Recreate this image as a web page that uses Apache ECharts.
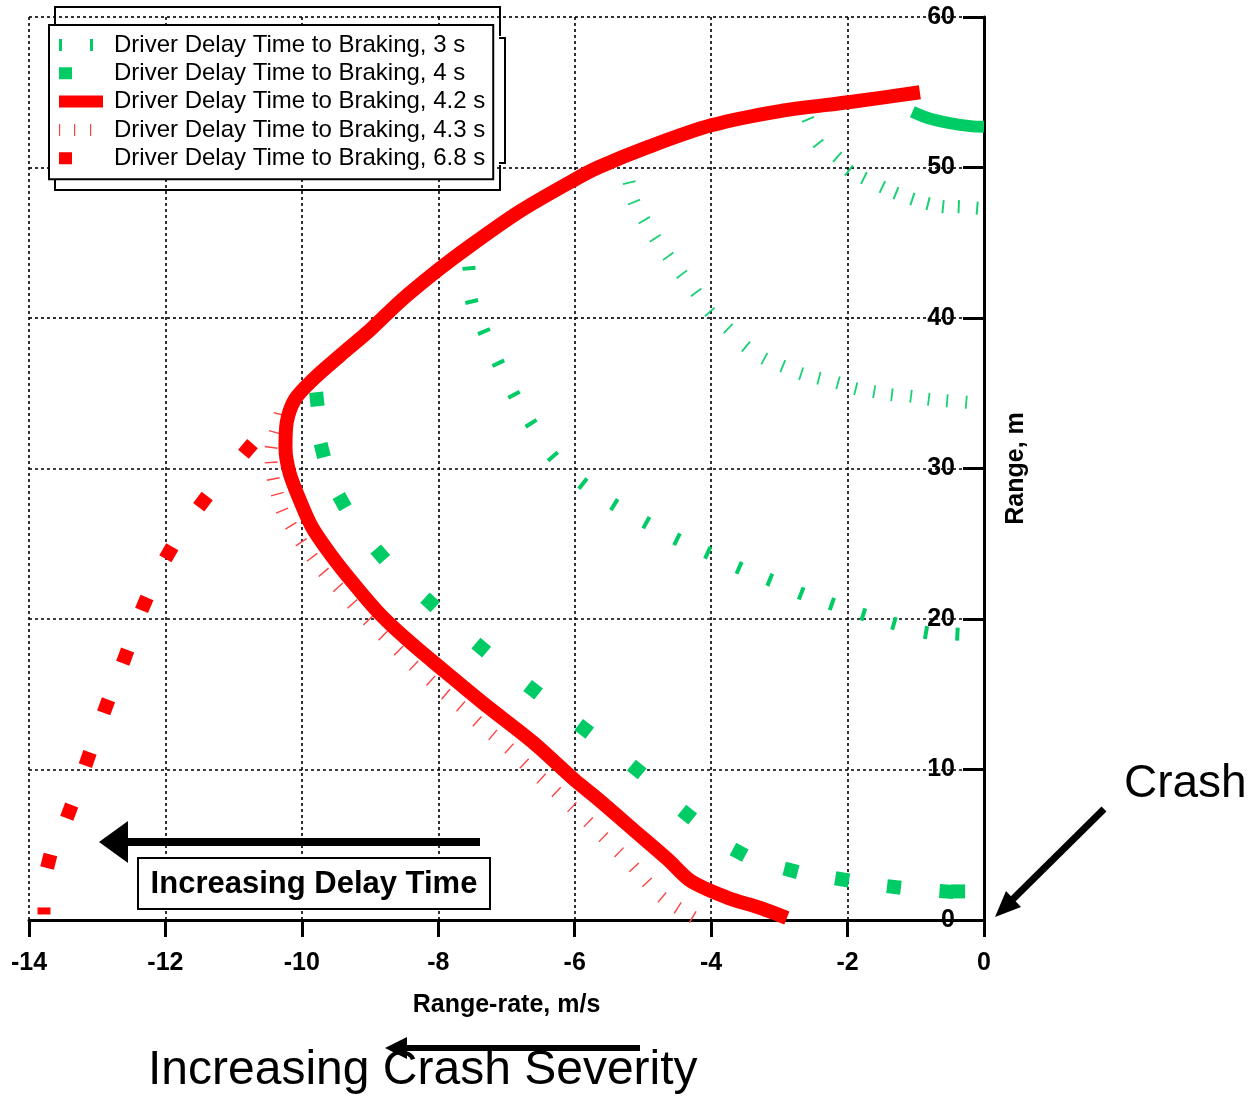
<!DOCTYPE html>
<html>
<head>
<meta charset="utf-8">
<title>Range vs Range-rate</title>
<script src="https://cdn.jsdelivr.net/npm/echarts@6/dist/echarts.min.js"></script>
</head>
<body style="margin:0;background:#fff">
<div id="main" style="width:1259px;height:1098px;"></div>
<script>
// series names (legend text)
var names = [
    'Driver Delay Time to Braking, 3 s',
    'Driver Delay Time to Braking, 4 s',
    'Driver Delay Time to Braking, 4.2 s',
    'Driver Delay Time to Braking, 4.3 s',
    'Driver Delay Time to Braking, 6.8 s'
];

// [range-rate m/s, range m]
// 3 s : three separate traces
var delay3A = [[-7.55,43.3],[-7.51,41.1],[-7.33,39.1],[-7.12,37.0],[-6.89,34.9],[-6.64,33.0],[-6.32,30.8],
    [-5.88,29.0],[-5.42,27.6],[-4.95,26.4],[-4.50,25.3],[-4.05,24.4],[-3.59,23.4],[-3.14,22.6],[-2.68,21.7],
    [-2.23,21.0],[-1.77,20.3],[-1.32,19.7],[-0.85,19.1],[-0.39,19.0]];
var delay3B = [[-5.20,49.0],[-5.13,47.7],[-4.98,46.5],[-4.82,45.3],[-4.63,44.1],[-4.43,42.9],[-4.22,41.7],
    [-4.02,40.4],[-3.75,39.3],[-3.49,38.1],[-3.22,37.3],[-2.95,36.8],[-2.68,36.3],[-2.42,36.0],[-2.14,35.7],
    [-1.88,35.3],[-1.61,35.1],[-1.35,34.9],[-1.07,34.8],[-0.81,34.6],[-0.54,34.5],[-0.26,34.4]];
var delay3C = [[-2.58,53.2],[-2.43,51.6],[-2.15,50.7],[-1.98,49.8],[-1.76,49.3],[-1.49,48.7],[-1.29,48.3],
    [-1.05,47.9],[-0.82,47.6],[-0.60,47.4],[-0.37,47.4],[-0.10,47.3]];

// 4 s
var delay4 = [[-9.78,34.6],[-9.70,31.2],[-9.41,27.8],[-8.85,24.3],[-8.12,21.1],[-7.37,18.1],[-6.61,15.3],
    [-5.86,12.7],[-5.09,10.0],[-4.35,7.0],[-3.59,4.5],[-2.83,3.3],[-2.08,2.7],[-1.32,2.2],[-0.55,1.9],[-0.38,1.9]];
var delay4Top = [[-1.05,53.7],[-0.8,53.25],[-0.5,52.95],[-0.2,52.75],[0,52.7]];

// 4.2 s
var delay42 = [[-0.94,55.0],[-1.96,54.35],[-2.99,53.75],[-4.0,52.8],[-4.9,51.4],[-5.66,50.0],[-6.0,49.2],
    [-6.8,47.1],[-7.53,44.8],[-8.0,43.2],[-8.56,41.1],[-9.0,39.2],[-9.44,37.5],[-9.84,35.9],[-10.1,34.6],
    [-10.22,33.1],[-10.24,31.4],[-10.18,29.7],[-10.03,27.9],[-9.85,26.1],[-9.58,24.3],[-9.25,22.4],
    [-8.85,20.3],[-8.4,18.4],[-7.9,16.5],[-7.34,14.4],[-6.61,11.8],[-6.0,9.3],[-5.65,8.0],[-5.14,6.0],
    [-4.63,4.0],[-4.3,2.6],[-3.77,1.5],[-3.28,0.8],[-2.89,0.13]];

// 4.3 s
var delay43 = [[-10.32,33.6],[-10.39,32.4],[-10.45,31.4],[-10.45,30.4],[-10.42,29.3],[-10.36,28.3],[-10.29,27.2],
    [-10.16,26.2],[-10.01,25.1],[-9.85,24.1],[-9.68,23.1],[-9.47,22.1],[-9.26,21.0],[-9.03,19.9],[-8.81,18.9],
    [-8.58,17.9],[-8.36,16.9],[-8.11,15.9],[-7.89,15.0],[-7.67,14.2],[-7.43,13.2],[-7.20,12.3],[-6.96,11.4],
    [-6.74,10.4],[-6.49,9.4],[-6.27,8.5],[-6.04,7.5],[-5.80,6.5],[-5.58,5.5],[-5.35,4.5],[-5.13,3.5],
    [-4.94,2.5],[-4.72,1.5],[-4.49,0.8],[-4.27,0.2]];

// 6.8 s
var delay68 = [[-10.79,31.3],[-11.45,27.8],[-11.95,24.4],[-12.31,21.0],[-12.59,17.5],[-12.87,14.2],
    [-13.14,10.7],[-13.41,7.2],[-13.71,3.9],[-13.78,0.6]];

var xTicks = {min: -14, max: 0, interval: 2};
var yTicks = {min: 0, max: 60, interval: 10};

var GREEN = '#00cc66';
var RED = '#ff0000';
var FONT = 'Liberation Sans, Arial, Helvetica, sans-serif';
var pad = ' M49.9,5.9h0.1v0.1h-0.1z';   // keeps every legend icon 50px wide

var myChart = echarts.init(document.getElementById('main'));

var gridLine = {show: true, lineStyle: {color: '#000', type: [3, 3], width: 1.6}};

var option = {
    animation: false,
    backgroundColor: '#fff',
    grid: {left: 29, right: 275, top: 17, bottom: 178},
    legend: {
        orient: 'vertical', left: 49, top: 25, z: 10,
        padding: [8, 8, 9, 10], itemGap: 4.3,
        itemWidth: 50, itemHeight: 12,
        backgroundColor: '#fff', borderColor: '#000', borderWidth: 2,
        selectedMode: false,
        itemStyle: {borderWidth: 0, opacity: 1},
        textStyle: {fontSize: 24, fontFamily: FONT, color: '#000', lineHeight: 24},
        data: [
            {name: names[0], icon: 'path://M0,0h3v12h-3z M31,0h3v12h-3z' + pad},
            {name: names[1], icon: 'path://M0,0h13v12h-13z' + pad},
            {name: names[2], icon: 'path://M0,0h44v12h-44z' + pad},
            {name: names[3], icon: 'path://M0,0h1.2v12h-1.2z M15,0h1.2v12h-1.2z M31,0h1.2v12h-1.2z' + pad},
            {name: names[4], icon: 'path://M0,0h13v12h-13z' + pad}
        ]
    },
    xAxis: {
        type: 'value', min: xTicks.min, max: xTicks.max, interval: xTicks.interval,
        name: 'Range-rate, m/s', nameLocation: 'middle', nameGap: 73,
        nameTextStyle: {fontSize: 25, fontWeight: 'bold', fontFamily: FONT, color: '#000'},
        axisLine: {onZero: false, lineStyle: {color: '#000', width: 3}},
        axisTick: {length: 17, lineStyle: {color: '#000', width: 3}},
        axisLabel: {margin: 31, fontSize: 25, fontWeight: 'bold', fontFamily: FONT, color: '#000'},
        splitLine: gridLine
    },
    yAxis: {
        type: 'value', position: 'right', min: yTicks.min, max: yTicks.max, interval: yTicks.interval,
        name: 'Range, m', nameLocation: 'middle', nameRotate: 90, nameGap: 20,
        nameTextStyle: {fontSize: 25, fontWeight: 'bold', fontFamily: FONT, color: '#000'},
        axisLine: {onZero: false, lineStyle: {color: '#000', width: 3}},
        axisTick: {inside: true, length: 21, lineStyle: {color: '#000', width: 3}},
        axisLabel: {inside: true, margin: 29, fontSize: 25, fontWeight: 'bold', fontFamily: FONT, color: '#000'},
        splitLine: gridLine
    },
    series: [
        {id: 's3a', name: names[0], type: 'scatter', data: delay3A, symbol: 'rect', symbolSize: [4, 13],
            itemStyle: {color: GREEN, opacity: 1}},
        {id: 's3b', name: names[0], type: 'scatter', data: delay3B, symbol: 'rect', symbolSize: [1.8, 13],
            itemStyle: {color: GREEN, opacity: 0.9}},
        {id: 's3c', name: names[0], type: 'scatter', data: delay3C, symbol: 'rect', symbolSize: [2, 13],
            itemStyle: {color: GREEN, opacity: 0.9}},
        {id: 's4', name: names[1], type: 'scatter', data: delay4, symbol: 'rect', symbolSize: 14,
            itemStyle: {color: GREEN, opacity: 1}},
        {id: 's4top', name: names[1], type: 'line', data: delay4Top, showSymbol: false, smooth: 0.3,
            itemStyle: {color: GREEN}, lineStyle: {color: GREEN, width: 12}},
        {id: 's42', name: names[2], type: 'line', data: delay42, showSymbol: false, smooth: 0.3,
            itemStyle: {color: RED}, lineStyle: {color: RED, width: 14}},
        {id: 's43', name: names[3], type: 'scatter', data: delay43, symbol: 'rect', symbolSize: [1.4, 13],
            itemStyle: {color: '#ff4040', opacity: 1}},
        {id: 's68', name: names[4], type: 'scatter', data: delay68, symbol: 'rect', symbolSize: 14,
            itemStyle: {color: RED, opacity: 1}}
    ],
    graphic: [
        // frame behind the legend
        {type: 'polyline', z: 1, shape: {points: [[55, 25], [55, 7], [500, 7], [500, 36]]},
            style: {fill: null, stroke: '#000', lineWidth: 2}},
        {type: 'polyline', z: 1, shape: {points: [[499, 38], [505, 38], [505, 163], [499, 163]]},
            style: {fill: null, stroke: '#000', lineWidth: 2}},
        {type: 'polyline', z: 1, shape: {points: [[500, 165], [500, 190], [55, 190], [55, 178]]},
            style: {fill: null, stroke: '#000', lineWidth: 2}},
        // delay arrow
        {type: 'line', z: 100, shape: {x1: 480, y1: 842, x2: 125, y2: 842},
            style: {stroke: '#000', lineWidth: 8}},
        {type: 'polygon', z: 100, shape: {points: [[99, 842], [128, 821], [128, 863]]}, style: {fill: '#000'}},
        {type: 'rect', z: 100, shape: {x: 138, y: 858, width: 352, height: 51},
            style: {fill: '#fff', stroke: '#000', lineWidth: 2}},
        {type: 'text', z: 101, x: 314, y: 884,
            style: {text: 'Increasing Delay Time', font: 'bold 31px ' + FONT, fill: '#000',
                textAlign: 'center', textVerticalAlign: 'middle'}},
        // crash arrow
        {type: 'text', z: 100, x: 1124, y: 784,
            style: {text: 'Crash', font: '46px ' + FONT, fill: '#000', textAlign: 'left', textVerticalAlign: 'middle'}},
        {type: 'line', z: 100, shape: {x1: 1104, y1: 809, x2: 1013, y2: 899},
            style: {stroke: '#000', lineWidth: 7}},
        {type: 'polygon', z: 100, shape: {points: [[995, 917], [1021, 907], [1006, 891]]}, style: {fill: '#000'}},
        // crash severity
        {type: 'text', z: 100, x: 148, y: 1071,
            style: {text: 'Increasing Crash Severity', font: '48px ' + FONT, fill: '#000',
                textAlign: 'left', textVerticalAlign: 'middle'}},
        {type: 'line', z: 101, shape: {x1: 640, y1: 1048, x2: 400, y2: 1048},
            style: {stroke: '#000', lineWidth: 6}},
        {type: 'polygon', z: 101, shape: {points: [[385, 1048], [407, 1037], [407, 1059]]}, style: {fill: '#000'}}
    ]
};

myChart.setOption(option);

// turn each mark along its trace (screen direction from neighbouring points)
function orient(points, cutLast) {
    var px = points.map(function (p) { return myChart.convertToPixel({gridIndex: 0}, p); });
    return points.map(function (p, i) {
        var a = px[Math.max(i - 1, 0)], b = px[Math.min(i + 1, px.length - 1)];
        var deg = Math.atan2(a[1] - b[1], b[0] - a[0]) * 180 / Math.PI;
        if (cutLast && i === points.length - 1) {
            return {value: p, symbolRotate: 0, symbolSize: [13, 7]};
        }
        return {value: p, symbolRotate: deg};
    });
}

myChart.setOption({
    series: [
        {id: 's3a', data: orient(delay3A)},
        {id: 's3b', data: orient(delay3B)},
        {id: 's3c', data: orient(delay3C)},
        {id: 's4', data: orient(delay4)},
        {id: 's43', data: orient(delay43)},
        {id: 's68', data: orient(delay68, true)}
    ]
});
</script>
</body>
</html>
